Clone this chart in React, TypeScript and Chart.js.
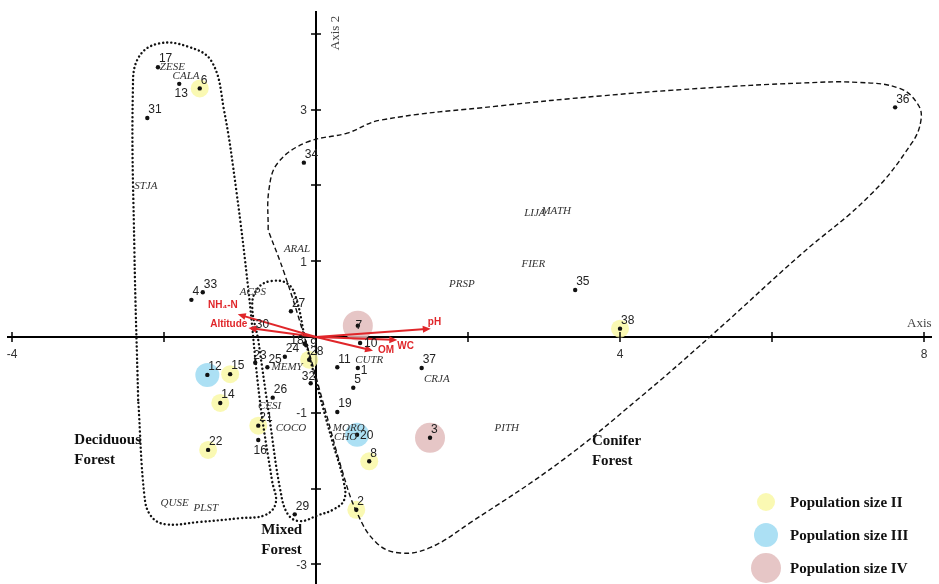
import { useEffect, useRef } from 'react';
import { Chart, registerables } from 'chart.js';

Chart.register(...registerables);

// Site scores on the first two ordination axes, with population size class
const siteIds = ['17', '13', '6', '31', '34', '36', '35', '38', '4', '33', '27', '30', '7', '10', '11', '1', '5', '37', '19', '20', '3', '8', '2', '29', '12', '15', '14', '22', '21', '16', '26', '23', '25', '24', '18', '9', '28', '32'];
const siteAxis1 = [-2.08, -1.8, -1.53, -2.22, -0.16, 7.62, 3.41, 4.0, -1.64, -1.49, -0.33, -0.82, 0.55, 0.58, 0.28, 0.55, 0.49, 1.39, 0.28, 0.54, 1.5, 0.7, 0.53, -0.28, -1.43, -1.13, -1.26, -1.42, -0.76, -0.76, -0.57, -0.8, -0.64, -0.41, -0.15, -0.13, -0.09, -0.07];
const siteAxis2 = [3.56, 3.34, 3.28, 2.89, 2.3, 3.03, 0.62, 0.11, 0.49, 0.59, 0.34, 0.11, 0.15, -0.08, -0.4, -0.41, -0.67, -0.41, -0.99, -1.29, -1.33, -1.64, -2.28, -2.34, -0.5, -0.49, -0.87, -1.49, -1.17, -1.36, -0.8, -0.34, -0.4, -0.26, -0.09, -0.11, -0.3, -0.61];
const sitePopClass = ['', '', 'II', '', '', '', '', 'II', '', '', '', '', 'IV', '', '', '', '', '', '', 'III', 'IV', 'II', 'II', '', 'III', 'II', 'II', 'II', 'II', '', '', '', '', '', '', '', 'II', ''];

// Species scores
const speciesCodes = ['ZESE', 'CALA', 'STJA', 'ARAL', 'ACPS', 'MEMY', 'CESI', 'COCO', 'MORO', 'CHO', 'CUTR', 'CRJA', 'PITH', 'QUSE', 'PLST', 'PRSP', 'FIER', 'LIJA', 'MATH'];
const speciesAxis1 = [-1.89, -1.71, -2.24, -0.25, -0.83, -0.38, -0.61, -0.33, 0.43, 0.39, 0.7, 1.59, 2.51, -1.86, -1.45, 1.92, 2.86, 2.88, 3.16];
const speciesAxis2 = [3.56, 3.44, 1.99, 1.16, 0.59, -0.4, -0.91, -1.2, -1.2, -1.32, -0.3, -0.55, -1.2, -2.19, -2.26, 0.7, 0.96, 1.64, 1.66];

// Environmental variable biplot arrows
const envNames = ['NH\u2084-N', 'Altitude', 'pH', 'WC', 'OM'];
const envAxis1 = [-1.03, -0.89, 1.51, 1.07, 0.75];
const envAxis2 = [0.3, 0.12, 0.11, -0.04, -0.18];

// Forest-type envelopes
const deciduousX = [-2.34, -2.39, -2.41, -2.34, -2.08, -1.68, -1.37, -1.21, -1.05, -0.89, -0.74, -0.58, -0.53, -0.67, -1.0, -1.53, -1.99, -2.18, -2.26, -2.34];
const deciduousY = [-0.83, 1.15, 3.26, 3.68, 3.87, 3.83, 3.63, 2.99, 1.94, 0.62, -0.83, -1.89, -2.19, -2.35, -2.39, -2.44, -2.47, -2.35, -2.08, -0.83];
const mixedX = [-0.76, -0.84, -0.76, -0.58, -0.37, -0.26, -0.14, 0.03, 0.21, 0.36, 0.37, 0.22, 0.03, -0.21, -0.37, -0.47, -0.61, -0.76];
const mixedY = [-0.04, 0.42, 0.65, 0.74, 0.7, 0.51, -0.04, -0.7, -1.36, -1.89, -2.15, -2.28, -2.35, -2.43, -2.34, -2.02, -1.09, -0.04];
const coniferX = [-0.63, -0.62, -0.5, -0.12, 0.41, 0.84, 2.42, 3.74, 5.05, 6.37, 7.12, 7.68, 7.92, 7.96, 7.84, 7.29, 6.37, 5.18, 4.26, 3.21, 2.03, 1.5, 1.11, 0.8, 0.54, 0.34, 0.12, -0.14, -0.41, -0.63];
const coniferY = [1.41, 1.94, 2.3, 2.57, 2.69, 2.86, 3.05, 3.18, 3.28, 3.35, 3.36, 3.28, 3.07, 2.86, 2.56, 1.87, 1.08, 0.0, -0.8, -1.65, -2.45, -2.78, -2.85, -2.72, -2.32, -1.75, -0.96, -0.04, 0.82, 1.41];

// Forest-type captions (anchor on the axes, two lines each)
const forestCaptions = [['Deciduous', 'Forest'], ['Mixed', 'Forest'], ['Conifer', 'Forest']];
const forestAxis1 = [-3.18, -0.72, 3.63];
const forestAxis2 = [-1.36, -2.55, -1.37];

const xTickValues = [-4, -2, 0, 2, 4, 6, 8];
const xTickLabels = ['-4', '', '', '', '4', '', '8'];
const yTickValues = [-3, -2, -1, 0, 1, 2, 3, 4];
const yTickLabels = ['-3', '', '-1', '', '1', '', '3', ''];

const popClasses = ['II', 'III', 'IV'];
const popLegendLabels = ['Population size II', 'Population size III', 'Population size IV'];

const popStyle: Record<string, { r: number; color: string }> = {
  II: { r: 9, color: 'rgba(249,247,160,0.8)' },
  III: { r: 12, color: 'rgba(158,218,242,0.85)' },
  IV: { r: 15, color: 'rgba(226,188,188,0.85)' },
};

// label placement around each site dot: [dx, dy, align]
const defaultPlace: [number, number, CanvasTextAlign] = [1, -8, 'left'];
const labelPlace: Record<string, [number, number, CanvasTextAlign]> = {
  '13': [2, 10, 'center'],
  '16': [2, 11, 'center'],
  '10': [4, 1, 'left'],
  '1': [3, 3, 'left'],
  '20': [3, 1, 'left'],
  '32': [-9, -7, 'left'],
  '7': [1, 0, 'center'],
  '30': [2, -4, 'left'],
  '9': [4, -2, 'left'],
  '18': [-1, -3, 'right'],
  '23': [-2, -7, 'left'],
};

const envPlace: Record<string, [number, number, CanvasTextAlign]> = {
  'NH\u2084-N': [0, -9, 'right'],
  Altitude: [-1, -4, 'right'],
  pH: [-3, -6, 'left'],
  WC: [0, 6, 'left'],
  OM: [5, 0, 'left'],
};

const toPoints = (xs: number[], ys: number[]) => xs.map((x, i) => ({ x, y: ys[i] }));

const overlayPlugin = {
  id: 'ordinationOverlay',
  afterDatasetsDraw(chart: any) {
    const ctx: CanvasRenderingContext2D = chart.ctx;
    const xs = chart.scales.x;
    const ys = chart.scales.y;
    const px = (v: number) => xs.getPixelForValue(v);
    const py = (v: number) => ys.getPixelForValue(v);
    const x0 = px(0);
    const y0 = py(0);
    ctx.save();

    // tick marks crossing the axes
    ctx.strokeStyle = '#000';
    ctx.lineWidth = 1.5;
    ctx.beginPath();
    xs.ticks.forEach((t: any) => {
      const x = Math.round(px(t.value));
      ctx.moveTo(x, y0 - 5);
      ctx.lineTo(x, y0 + 5);
    });
    ys.ticks.forEach((t: any) => {
      const y = Math.round(py(t.value));
      ctx.moveTo(x0 - 5, y);
      ctx.lineTo(x0 + 5, y);
    });
    ctx.stroke();

    // tick labels
    ctx.font = '12px "Liberation Sans", sans-serif';
    ctx.fillStyle = '#333';
    ctx.textBaseline = 'middle';
    ctx.textAlign = 'center';
    xTickValues.forEach((v, i) => {
      if (xTickLabels[i]) ctx.fillText(xTickLabels[i], px(v), y0 + 18);
    });
    ctx.textAlign = 'right';
    yTickValues.forEach((v, i) => {
      if (yTickLabels[i]) ctx.fillText(yTickLabels[i], x0 - 9, py(v) + 1);
    });

    // axis titles
    ctx.font = '13px "Liberation Serif", serif';
    ctx.fillStyle = '#444';
    ctx.textAlign = 'left';
    ctx.fillText('Axis', 907, y0 - 13);
    ctx.save();
    ctx.translate(x0 + 20, 33);
    ctx.rotate(-Math.PI / 2);
    ctx.textAlign = 'center';
    ctx.fillText('Axis 2', 0, 0);
    ctx.restore();

    // environmental arrows
    const red = '#e0262a';
    ctx.strokeStyle = red;
    ctx.fillStyle = red;
    ctx.lineWidth = 2;
    envNames.forEach((name, i) => {
      const tx = px(envAxis1[i]);
      const ty = py(envAxis2[i]);
      const ang = Math.atan2(ty - y0, tx - x0);
      const head = 8;
      ctx.beginPath();
      ctx.moveTo(x0, y0);
      ctx.lineTo(tx - Math.cos(ang) * head * 0.6, ty - Math.sin(ang) * head * 0.6);
      ctx.stroke();
      ctx.beginPath();
      ctx.moveTo(tx, ty);
      ctx.lineTo(tx - Math.cos(ang) * head + Math.sin(ang) * 3.5, ty - Math.sin(ang) * head - Math.cos(ang) * 3.5);
      ctx.lineTo(tx - Math.cos(ang) * head - Math.sin(ang) * 3.5, ty - Math.sin(ang) * head + Math.cos(ang) * 3.5);
      ctx.closePath();
      ctx.fill();
    });
    ctx.font = 'bold 10px "Liberation Sans", sans-serif';
    envNames.forEach((name, i) => {
      const [dx, dy, align] = envPlace[name];
      ctx.textAlign = align;
      ctx.fillText(name, px(envAxis1[i]) + dx, py(envAxis2[i]) + dy);
    });

    // species codes
    ctx.font = 'italic 11px "Liberation Serif", serif';
    ctx.fillStyle = '#333';
    ctx.textAlign = 'center';
    speciesCodes.forEach((code, i) => {
      ctx.fillText(code, px(speciesAxis1[i]), py(speciesAxis2[i]));
    });

    // site numbers
    ctx.font = '12px "Liberation Sans", sans-serif';
    ctx.fillStyle = '#222';
    siteIds.forEach((id, i) => {
      const [dx, dy, align] = labelPlace[id] || defaultPlace;
      ctx.textAlign = align;
      ctx.fillText(id, px(siteAxis1[i]) + dx, py(siteAxis2[i]) + dy);
    });

    // forest captions
    ctx.font = 'bold 15px "Liberation Serif", serif';
    ctx.fillStyle = '#111';
    ctx.textAlign = 'left';
    forestCaptions.forEach((lines, i) => {
      lines.forEach((line, k) => {
        ctx.fillText(line, px(forestAxis1[i]), py(forestAxis2[i]) + k * 20);
      });
    });

    // population size legend
    const legendY = [502, 535, 568];
    popClasses.forEach((cls, i) => {
      const st = popStyle[cls];
      ctx.beginPath();
      ctx.fillStyle = st.color;
      ctx.arc(766, legendY[i], st.r, 0, Math.PI * 2);
      ctx.fill();
      ctx.fillStyle = '#111';
      ctx.font = 'bold 15px "Liberation Serif", serif';
      ctx.textAlign = 'left';
      ctx.fillText(popLegendLabels[i], 790, legendY[i] + 1);
    });

    ctx.restore();
  },
};

export default function App() {
  const canvasRef = useRef<HTMLCanvasElement | null>(null);

  useEffect(() => {
    if (!canvasRef.current) return;
    const sites = toPoints(siteAxis1, siteAxis2);
    const popDatasets = popClasses.map((cls) => ({
      label: cls,
      data: sites.filter((_, i) => sitePopClass[i] === cls),
      pointRadius: popStyle[cls].r,
      pointBackgroundColor: popStyle[cls].color,
      pointBorderWidth: 0,
      showLine: false,
      order: 5,
    }));
    const hull = (xs: number[], ys: number[], dotted: boolean) => ({
      label: 'hull',
      data: toPoints(xs, ys),
      showLine: true,
      pointRadius: 0,
      borderColor: '#111',
      borderWidth: dotted ? 2.4 : 1.4,
      borderDash: dotted ? [0.1, 4] : [5, 3],
      borderCapStyle: dotted ? 'round' : 'butt',
      tension: 0.4,
      fill: false,
      order: 2,
    });

    const chart = new Chart(canvasRef.current, {
      type: 'scatter',
      data: {
        datasets: [
          {
            label: 'sites',
            data: sites,
            pointRadius: 2.2,
            pointBackgroundColor: '#111',
            pointBorderWidth: 0,
            showLine: false,
            order: 1,
          },
          hull(deciduousX, deciduousY, true),
          hull(mixedX, mixedY, true),
          hull(coniferX, coniferY, false),
          ...popDatasets,
        ] as any,
      },
      options: {
        responsive: false,
        animation: false,
        events: [],
        layout: { autoPadding: false, padding: { top: 12, left: 8, right: 8, bottom: 0 } },
        plugins: { legend: { display: false }, tooltip: { enabled: false } },
        scales: {
          x: {
            type: 'linear',
            min: -4.053,
            max: 8.092,
            position: { y: 0 } as any,
            border: { display: true, color: '#000', width: 2 },
            grid: { display: false },
            ticks: { display: false },
            afterBuildTicks: (s: any) => {
              s.ticks = xTickValues.map((value) => ({ value }));
            },
            afterFit: (s: any) => {
              s.height = 0;
            },
          },
          y: {
            type: 'linear',
            min: -3.259,
            max: 4.288,
            position: { x: 0 } as any,
            border: { display: true, color: '#000', width: 2 },
            grid: { display: false },
            ticks: { display: false },
            afterBuildTicks: (s: any) => {
              s.ticks = yTickValues.map((value) => ({ value }));
            },
            afterFit: (s: any) => {
              s.width = 0;
            },
          },
        },
      },
      plugins: [overlayPlugin],
    });
    return () => chart.destroy();
  }, []);

  return (
    <div style={{ position: 'absolute', left: 0, top: 0, width: 939, height: 584, background: '#fff' }}>
      <canvas ref={canvasRef} width={939} height={584} style={{ display: 'block' }} />
    </div>
  );
}
